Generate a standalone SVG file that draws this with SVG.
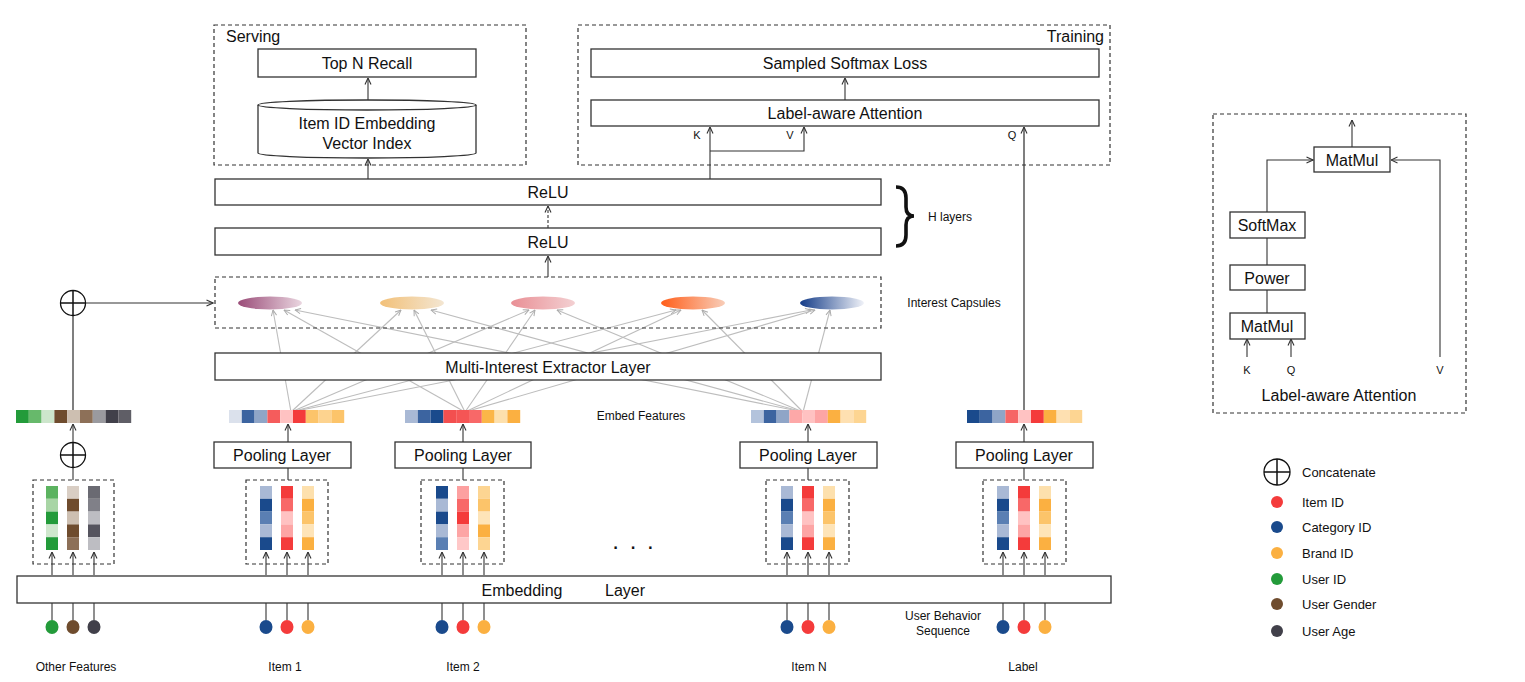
<svg xmlns="http://www.w3.org/2000/svg" width="1525" height="682" viewBox="0 0 1525 682">
<style>
.box{fill:#fff;stroke:#333;stroke-width:1.3}
.dash{fill:none;stroke:#333;stroke-width:1.2;stroke-dasharray:4 3}
.ln{fill:none;stroke:#333;stroke-width:1.1}
.gl{fill:none;stroke:#bdbdbd;stroke-width:1.1}
.t16{font-family:"Liberation Sans",Arial,sans-serif;font-size:16px;fill:#111;text-anchor:middle;dominant-baseline:central}
.t13{font-family:"Liberation Sans",Arial,sans-serif;font-size:13px;fill:#111;dominant-baseline:central}
.t12{font-family:"Liberation Sans Narrow","Liberation Sans",Arial,sans-serif;font-size:12px;fill:#111;text-anchor:middle;dominant-baseline:central}
.t11{font-family:"Liberation Sans",Arial,sans-serif;font-size:11px;fill:#111;text-anchor:middle;dominant-baseline:central}
</style>
<defs>
<marker id="ar" viewBox="0 0 8 8" refX="7.5" refY="4" markerWidth="8" markerHeight="8" markerUnits="userSpaceOnUse" orient="auto"><path d="M1,1 L7.5,4 L1,7" fill="none" stroke="#333" stroke-width="1.1"/></marker>
<marker id="arg" viewBox="0 0 8 8" refX="7.5" refY="4" markerWidth="7" markerHeight="7" markerUnits="userSpaceOnUse" orient="auto"><path d="M1,1 L7.5,4 L1,7" fill="none" stroke="#aaa" stroke-width="1.1"/></marker>
<linearGradient id="g1"><stop offset="0" stop-color="#9a4c78"/><stop offset="1" stop-color="#ead6e0"/></linearGradient>
<linearGradient id="g2"><stop offset="0" stop-color="#f2c078"/><stop offset="1" stop-color="#f3e6d2"/></linearGradient>
<linearGradient id="g3"><stop offset="0" stop-color="#e98f95"/><stop offset="1" stop-color="#f3d0d2"/></linearGradient>
<linearGradient id="g4"><stop offset="0" stop-color="#ff5e1a"/><stop offset="1" stop-color="#f8cdb8"/></linearGradient>
<linearGradient id="g5"><stop offset="0" stop-color="#143c88"/><stop offset="1" stop-color="#f0f2f8"/></linearGradient>
</defs>
<rect width="1525" height="682" fill="#fff"/>

<!-- gray extractor connections (behind boxes) -->
<g id="extractor-links">
<line class="gl" x1="291" y1="412" x2="273" y2="310" marker-end="url(#arg)"/>
<line class="gl" x1="465" y1="412" x2="284" y2="310" marker-end="url(#arg)"/>
<line class="gl" x1="803" y1="412" x2="295" y2="310" marker-end="url(#arg)"/>
<line class="gl" x1="291" y1="412" x2="401" y2="310" marker-end="url(#arg)"/>
<line class="gl" x1="465" y1="412" x2="414" y2="310" marker-end="url(#arg)"/>
<line class="gl" x1="803" y1="412" x2="431" y2="310" marker-end="url(#arg)"/>
<line class="gl" x1="291" y1="412" x2="529" y2="310" marker-end="url(#arg)"/>
<line class="gl" x1="465" y1="412" x2="535" y2="310" marker-end="url(#arg)"/>
<line class="gl" x1="803" y1="412" x2="557" y2="310" marker-end="url(#arg)"/>
<line class="gl" x1="291" y1="412" x2="676" y2="310" marker-end="url(#arg)"/>
<line class="gl" x1="465" y1="412" x2="681" y2="310" marker-end="url(#arg)"/>
<line class="gl" x1="803" y1="412" x2="702" y2="310" marker-end="url(#arg)"/>
<line class="gl" x1="291" y1="412" x2="811" y2="310" marker-end="url(#arg)"/>
<line class="gl" x1="465" y1="412" x2="815" y2="310" marker-end="url(#arg)"/>
<line class="gl" x1="803" y1="412" x2="830" y2="310" marker-end="url(#arg)"/>
</g>

<!-- connectors -->
<g id="connectors">
<line class="ln" x1="368" y1="100" x2="368" y2="78" marker-end="url(#ar)"/>
<line class="ln" x1="368" y1="179" x2="368" y2="159" marker-end="url(#ar)"/>
<line class="ln" x1="845" y1="100" x2="845" y2="78" marker-end="url(#ar)"/>
<polyline class="ln" points="710,179 710,151"/>
<line class="ln" x1="710" y1="151" x2="710" y2="127" marker-end="url(#ar)"/>
<polyline class="ln" points="710,151 804,151 804,127" marker-end="url(#ar)"/>
<line x1="1024" y1="410" x2="1024" y2="127" stroke="#555" stroke-width="1.5" marker-end="url(#ar)"/>
<line class="ln" x1="548" y1="228" x2="548" y2="206" stroke-dasharray="3 2" marker-end="url(#ar)"/>
<line class="ln" x1="548" y1="277" x2="548" y2="256" marker-end="url(#ar)"/>
<line class="ln" x1="86" y1="303" x2="213" y2="303" marker-end="url(#ar)"/>
<line x1="73" y1="410" x2="73" y2="316" stroke="#555" stroke-width="1.5"/>
<line class="ln" x1="73" y1="442" x2="73" y2="424" marker-end="url(#ar)"/>
<line class="ln" x1="73" y1="480" x2="73" y2="467"/>
<line class="ln" x1="288" y1="442" x2="288" y2="424" marker-end="url(#ar)"/>
<line class="ln" x1="288" y1="480" x2="288" y2="468"/>
<line class="ln" x1="463" y1="442" x2="463" y2="424" marker-end="url(#ar)"/>
<line class="ln" x1="463" y1="480" x2="463" y2="468"/>
<line class="ln" x1="808" y1="442" x2="808" y2="424" marker-end="url(#ar)"/>
<line class="ln" x1="808" y1="480" x2="808" y2="468"/>
<line class="ln" x1="1024" y1="442" x2="1024" y2="424" marker-end="url(#ar)"/>
<line class="ln" x1="1024" y1="480" x2="1024" y2="468"/>
<!-- embedding to columns -->
<g>
<line class="ln" x1="52" y1="575" x2="52" y2="552" marker-end="url(#ar)"/>
<line class="ln" x1="73" y1="575" x2="73" y2="552" marker-end="url(#ar)"/>
<line class="ln" x1="94" y1="575" x2="94" y2="552" marker-end="url(#ar)"/>
<line class="ln" x1="266" y1="575" x2="266" y2="552" marker-end="url(#ar)"/>
<line class="ln" x1="287" y1="575" x2="287" y2="552" marker-end="url(#ar)"/>
<line class="ln" x1="308" y1="575" x2="308" y2="552" marker-end="url(#ar)"/>
<line class="ln" x1="442" y1="575" x2="442" y2="552" marker-end="url(#ar)"/>
<line class="ln" x1="463" y1="575" x2="463" y2="552" marker-end="url(#ar)"/>
<line class="ln" x1="484" y1="575" x2="484" y2="552" marker-end="url(#ar)"/>
<line class="ln" x1="787" y1="575" x2="787" y2="552" marker-end="url(#ar)"/>
<line class="ln" x1="808" y1="575" x2="808" y2="552" marker-end="url(#ar)"/>
<line class="ln" x1="829" y1="575" x2="829" y2="552" marker-end="url(#ar)"/>
<line class="ln" x1="1003" y1="575" x2="1003" y2="552" marker-end="url(#ar)"/>
<line class="ln" x1="1024" y1="575" x2="1024" y2="552" marker-end="url(#ar)"/>
<line class="ln" x1="1045" y1="575" x2="1045" y2="552" marker-end="url(#ar)"/>
</g>
<!-- inputs to embedding -->
<g>
<line class="ln" x1="52" y1="603" x2="52" y2="620"/>
<line class="ln" x1="73" y1="603" x2="73" y2="620"/>
<line class="ln" x1="94" y1="603" x2="94" y2="620"/>
<line class="ln" x1="266" y1="603" x2="266" y2="620"/>
<line class="ln" x1="287" y1="603" x2="287" y2="620"/>
<line class="ln" x1="308" y1="603" x2="308" y2="620"/>
<line class="ln" x1="442" y1="603" x2="442" y2="620"/>
<line class="ln" x1="463" y1="603" x2="463" y2="620"/>
<line class="ln" x1="484" y1="603" x2="484" y2="620"/>
<line class="ln" x1="787" y1="603" x2="787" y2="620"/>
<line class="ln" x1="808" y1="603" x2="808" y2="620"/>
<line class="ln" x1="829" y1="603" x2="829" y2="620"/>
<line class="ln" x1="1003" y1="603" x2="1003" y2="620"/>
<line class="ln" x1="1024" y1="603" x2="1024" y2="620"/>
<line class="ln" x1="1045" y1="603" x2="1045" y2="620"/>
</g>
</g>

<!-- Serving -->
<g id="serving">
<rect class="dash" x="214" y="25" width="312" height="140"/>
<text class="t16" x="226" y="36" style="text-anchor:start">Serving</text>
</g>
<g id="top-n-recall">
<rect class="box" x="258" y="49" width="218" height="28"/>
<text class="t16" x="367" y="63">Top N Recall</text>
</g>
<g id="vector-index">
<path d="M258,105 L258,153 A109,5 0 0 0 476,153 L476,105" class="box"/>
<ellipse cx="367" cy="105" rx="109" ry="5" class="box"/>
<text class="t16" x="367" y="123">Item ID Embedding</text>
<text class="t16" x="367" y="143">Vector Index</text>
</g>

<!-- Training -->
<g id="training">
<rect class="dash" x="578" y="25" width="532" height="140"/>
<text class="t16" x="1104" y="36" style="text-anchor:end">Training</text>
</g>
<g id="sampled-softmax">
<rect class="box" x="591" y="49" width="508" height="28"/>
<text class="t16" x="845" y="63">Sampled Softmax Loss</text>
</g>
<g id="label-attention">
<rect class="box" x="591" y="100" width="508" height="26"/>
<text class="t16" x="845" y="113">Label-aware Attention</text>
<text class="t11" x="697" y="135">K</text>
<text class="t11" x="790" y="135">V</text>
<text class="t11" x="1012" y="135">Q</text>
</g>

<!-- ReLU -->
<g id="relu-top">
<rect class="box" x="215" y="179" width="666" height="26"/>
<text class="t16" x="548" y="192">ReLU</text>
</g>
<g id="relu-bottom">
<rect class="box" x="215" y="228" width="666" height="27"/>
<text class="t16" x="548" y="242">ReLU</text>
</g>
<g id="h-layers">
<path d="M896,187 Q906,187 906,198 L906,207 Q906,216 914,216 Q906,216 906,225 L906,235 Q906,246 896,246" fill="none" stroke="#111" stroke-width="3.6"/>
<text class="t12" x="950" y="217">H layers</text>
</g>

<!-- Interest capsules -->
<g id="interest-capsules">
<rect class="dash" x="215" y="277" width="666" height="51"/>
<ellipse cx="270" cy="303" rx="32" ry="6.5" fill="url(#g1)"/>
<ellipse cx="412" cy="303" rx="32" ry="6.5" fill="url(#g2)"/>
<ellipse cx="543" cy="303" rx="32" ry="6.5" fill="url(#g3)"/>
<ellipse cx="693" cy="303" rx="32" ry="6.5" fill="url(#g4)"/>
<ellipse cx="832" cy="303" rx="32" ry="6.5" fill="url(#g5)"/>
<text class="t12" x="954" y="303">Interest Capsules</text>
</g>
<g id="concat-top">
<circle cx="73" cy="303" r="12.5" fill="#fff" stroke="#111" stroke-width="1.3"/>
<path d="M60.5,303 H85.5 M73,290.5 V315.5" stroke="#111" stroke-width="1.5"/>
</g>

<g id="extractor">
<rect class="box" x="215" y="353" width="666" height="27"/>
<text class="t16" x="548" y="367">Multi-Interest Extractor Layer</text>
</g>

<!-- Embed feature vectors -->
<g id="embed-features">
<g transform="translate(16,410)">
<rect x="0" width="12.8" height="13" fill="#239b3a"/><rect x="12.8" width="12.8" height="13" fill="#67b96b"/><rect x="25.6" width="12.8" height="13" fill="#cde6cc"/><rect x="38.4" width="12.8" height="13" fill="#6f4c2e"/><rect x="51.2" width="12.8" height="13" fill="#cdbfb1"/><rect x="64" width="12.8" height="13" fill="#8d7058"/><rect x="76.8" width="12.8" height="13" fill="#9a9a9f"/><rect x="89.6" width="12.8" height="13" fill="#41404a"/><rect x="102.4" width="12.8" height="13" fill="#5f5e66"/>
</g>
<g transform="translate(229,410)">
<rect x="0" width="12.8" height="13" fill="#dbe1ec"/><rect x="12.8" width="12.8" height="13" fill="#3c64a0"/><rect x="25.6" width="12.8" height="13" fill="#8fa5c7"/><rect x="38.4" width="12.8" height="13" fill="#f55c5c"/><rect x="51.2" width="12.8" height="13" fill="#ffc2c2"/><rect x="64" width="12.8" height="13" fill="#f43b3b"/><rect x="76.8" width="12.8" height="13" fill="#fcc46a"/><rect x="89.6" width="12.8" height="13" fill="#fdd38f"/><rect x="102.4" width="12.8" height="13" fill="#fcc46a"/>
</g>
<g transform="translate(405,410)">
<rect x="0" width="12.8" height="13" fill="#a9b9d5"/><rect x="12.8" width="12.8" height="13" fill="#3c64a0"/><rect x="25.6" width="12.8" height="13" fill="#1a4a8c"/><rect x="38.4" width="12.8" height="13" fill="#f34f4f"/><rect x="51.2" width="12.8" height="13" fill="#f55555"/><rect x="64" width="12.8" height="13" fill="#f86868"/><rect x="76.8" width="12.8" height="13" fill="#fbb648"/><rect x="89.6" width="12.8" height="13" fill="#fde0ad"/><rect x="102.4" width="12.8" height="13" fill="#fbb041"/>
</g>
<g transform="translate(751,410)">
<rect x="0" width="12.8" height="13" fill="#b3c3dc"/><rect x="12.8" width="12.8" height="13" fill="#3c64a0"/><rect x="25.6" width="12.8" height="13" fill="#8fa5c7"/><rect x="38.4" width="12.8" height="13" fill="#fda8a8"/><rect x="51.2" width="12.8" height="13" fill="#ffc2c2"/><rect x="64" width="12.8" height="13" fill="#fda5a5"/><rect x="76.8" width="12.8" height="13" fill="#fbb041"/><rect x="89.6" width="12.8" height="13" fill="#fee0b1"/><rect x="102.4" width="12.8" height="13" fill="#fdd592"/>
</g>
<g transform="translate(967,410)">
<rect x="0" width="12.8" height="13" fill="#1a4a8c"/><rect x="12.8" width="12.8" height="13" fill="#3c64a0"/><rect x="25.6" width="12.8" height="13" fill="#8fa5c7"/><rect x="38.4" width="12.8" height="13" fill="#f66565"/><rect x="51.2" width="12.8" height="13" fill="#ffc2c2"/><rect x="64" width="12.8" height="13" fill="#f43b3b"/><rect x="76.8" width="12.8" height="13" fill="#fbb041"/><rect x="89.6" width="12.8" height="13" fill="#fee0b1"/><rect x="102.4" width="12.8" height="13" fill="#fdd592"/>
</g>
<text class="t12" x="641" y="416">Embed Features</text>
</g>

<!-- concat bottom -->
<g id="concat-bottom">
<circle cx="73" cy="455" r="12.5" fill="#fff" stroke="#111" stroke-width="1.3"/>
<path d="M60.5,455 H85.5 M73,442.5 V467.5" stroke="#111" stroke-width="1.5"/>
</g>

<!-- Pooling layers -->
<g id="pool-1"><rect class="box" x="214" y="442" width="137" height="26"/><text class="t16" x="282" y="455">Pooling Layer</text></g>
<g id="pool-2"><rect class="box" x="395" y="442" width="136" height="26"/><text class="t16" x="463" y="455">Pooling Layer</text></g>
<g id="pool-n"><rect class="box" x="740" y="442" width="137" height="26"/><text class="t16" x="808" y="455">Pooling Layer</text></g>
<g id="pool-label"><rect class="box" x="956" y="442" width="137" height="26"/><text class="t16" x="1024" y="455">Pooling Layer</text></g>

<!-- Column groups -->
<g id="cols-other">
<rect class="dash" x="33" y="480" width="81" height="84"/>
<g transform="translate(46,486)"><rect y="0" width="12" height="12.8" fill="#5cb360"/><rect y="12.8" width="12" height="12.8" fill="#a8d5a5"/><rect y="25.6" width="12" height="12.8" fill="#239b3a"/><rect y="38.4" width="12" height="12.8" fill="#cfe7cd"/><rect y="51.2" width="12" height="12.8" fill="#239b3a"/></g>
<g transform="translate(67,486)"><rect y="0" width="12" height="12.8" fill="#d9cec4"/><rect y="12.8" width="12" height="12.8" fill="#6f4c2e"/><rect y="25.6" width="12" height="12.8" fill="#cdbfb1"/><rect y="38.4" width="12" height="12.8" fill="#6f4c2e"/><rect y="51.2" width="12" height="12.8" fill="#8d7058"/></g>
<g transform="translate(88,486)"><rect y="0" width="12" height="12.8" fill="#6a6a72"/><rect y="12.8" width="12" height="12.8" fill="#808088"/><rect y="25.6" width="12" height="12.8" fill="#bdbdc2"/><rect y="38.4" width="12" height="12.8" fill="#55545e"/><rect y="51.2" width="12" height="12.8" fill="#bdbdc2"/></g>
</g>
<g id="cols-item1">
<rect class="dash" x="246" y="480" width="82" height="84"/>
<g transform="translate(260,486)"><rect y="0" width="12" height="12.8" fill="#a9b9d5"/><rect y="12.8" width="12" height="12.8" fill="#1a4a8c"/><rect y="25.6" width="12" height="12.8" fill="#5a7fb3"/><rect y="38.4" width="12" height="12.8" fill="#a9b9d5"/><rect y="51.2" width="12" height="12.8" fill="#1a4a8c"/></g>
<g transform="translate(281,486)"><rect y="0" width="12" height="12.8" fill="#f43b3b"/><rect y="12.8" width="12" height="12.8" fill="#f86868"/><rect y="25.6" width="12" height="12.8" fill="#ffc2c2"/><rect y="38.4" width="12" height="12.8" fill="#fda5a5"/><rect y="51.2" width="12" height="12.8" fill="#f43b3b"/></g>
<g transform="translate(302,486)"><rect y="0" width="12" height="12.8" fill="#fde0ad"/><rect y="12.8" width="12" height="12.8" fill="#fbb041"/><rect y="25.6" width="12" height="12.8" fill="#fcc46a"/><rect y="38.4" width="12" height="12.8" fill="#fee4b8"/><rect y="51.2" width="12" height="12.8" fill="#fbb041"/></g>
</g>
<g id="cols-item2">
<rect class="dash" x="421" y="480" width="83" height="84"/>
<g transform="translate(436,486)"><rect y="0" width="12" height="12.8" fill="#1a4a8c"/><rect y="12.8" width="12" height="12.8" fill="#a9b9d5"/><rect y="25.6" width="12" height="12.8" fill="#1a4a8c"/><rect y="38.4" width="12" height="12.8" fill="#a9b9d5"/><rect y="51.2" width="12" height="12.8" fill="#5a7fb3"/></g>
<g transform="translate(457,486)"><rect y="0" width="12" height="12.8" fill="#fda0a0"/><rect y="12.8" width="12" height="12.8" fill="#f86868"/><rect y="25.6" width="12" height="12.8" fill="#f43b3b"/><rect y="38.4" width="12" height="12.8" fill="#fda5a5"/><rect y="51.2" width="12" height="12.8" fill="#ffc8c8"/></g>
<g transform="translate(478,486)"><rect y="0" width="12" height="12.8" fill="#fdd592"/><rect y="12.8" width="12" height="12.8" fill="#fcc46a"/><rect y="25.6" width="12" height="12.8" fill="#fee4b8"/><rect y="38.4" width="12" height="12.8" fill="#fbb041"/><rect y="51.2" width="12" height="12.8" fill="#fdd592"/></g>
</g>
<g id="cols-itemn">
<rect class="dash" x="766" y="480" width="83" height="84"/>
<g transform="translate(781,486)"><rect y="0" width="12" height="12.8" fill="#a9b9d5"/><rect y="12.8" width="12" height="12.8" fill="#1a4a8c"/><rect y="25.6" width="12" height="12.8" fill="#5a7fb3"/><rect y="38.4" width="12" height="12.8" fill="#a9b9d5"/><rect y="51.2" width="12" height="12.8" fill="#1a4a8c"/></g>
<g transform="translate(802,486)"><rect y="0" width="12" height="12.8" fill="#f43b3b"/><rect y="12.8" width="12" height="12.8" fill="#f86868"/><rect y="25.6" width="12" height="12.8" fill="#ffc2c2"/><rect y="38.4" width="12" height="12.8" fill="#fda5a5"/><rect y="51.2" width="12" height="12.8" fill="#f43b3b"/></g>
<g transform="translate(823,486)"><rect y="0" width="12" height="12.8" fill="#fde0ad"/><rect y="12.8" width="12" height="12.8" fill="#fbb041"/><rect y="25.6" width="12" height="12.8" fill="#fcc46a"/><rect y="38.4" width="12" height="12.8" fill="#fee4b8"/><rect y="51.2" width="12" height="12.8" fill="#fbb041"/></g>
</g>
<g id="cols-label">
<rect class="dash" x="983" y="480" width="83" height="84"/>
<g transform="translate(997,486)"><rect y="0" width="12" height="12.8" fill="#a9b9d5"/><rect y="12.8" width="12" height="12.8" fill="#1a4a8c"/><rect y="25.6" width="12" height="12.8" fill="#5a7fb3"/><rect y="38.4" width="12" height="12.8" fill="#a9b9d5"/><rect y="51.2" width="12" height="12.8" fill="#1a4a8c"/></g>
<g transform="translate(1018,486)"><rect y="0" width="12" height="12.8" fill="#f43b3b"/><rect y="12.8" width="12" height="12.8" fill="#f86868"/><rect y="25.6" width="12" height="12.8" fill="#ffc2c2"/><rect y="38.4" width="12" height="12.8" fill="#fda5a5"/><rect y="51.2" width="12" height="12.8" fill="#f43b3b"/></g>
<g transform="translate(1039,486)"><rect y="0" width="12" height="12.8" fill="#fde0ad"/><rect y="12.8" width="12" height="12.8" fill="#fbb041"/><rect y="25.6" width="12" height="12.8" fill="#fcc46a"/><rect y="38.4" width="12" height="12.8" fill="#fee4b8"/><rect y="51.2" width="12" height="12.8" fill="#fbb041"/></g>
</g>
<text x="634" y="540" class="t16" style="font-size:24px;letter-spacing:2px">. . .</text>

<!-- Embedding layer -->
<g id="embedding-layer">
<rect class="box" x="17" y="576" width="1094" height="27"/>
<text class="t16" x="522" y="590">Embedding</text>
<text class="t16" x="625" y="590">Layer</text>
</g>

<!-- Inputs -->
<g id="inputs">
<ellipse cx="52" cy="627" rx="6.5" ry="7" fill="#239b3a"/><ellipse cx="73" cy="627" rx="6.5" ry="7" fill="#6f4c2e"/><ellipse cx="94" cy="627" rx="6.5" ry="7" fill="#41404a"/>
<ellipse cx="266" cy="627" rx="6.5" ry="7" fill="#1a4a8c"/><ellipse cx="287" cy="627" rx="6.5" ry="7" fill="#f43b3b"/><ellipse cx="308" cy="627" rx="6.5" ry="7" fill="#fbb041"/>
<ellipse cx="442" cy="627" rx="6.5" ry="7" fill="#1a4a8c"/><ellipse cx="463" cy="627" rx="6.5" ry="7" fill="#f43b3b"/><ellipse cx="484" cy="627" rx="6.5" ry="7" fill="#fbb041"/>
<ellipse cx="787" cy="627" rx="6.5" ry="7" fill="#1a4a8c"/><ellipse cx="808" cy="627" rx="6.5" ry="7" fill="#f43b3b"/><ellipse cx="829" cy="627" rx="6.5" ry="7" fill="#fbb041"/>
<ellipse cx="1003" cy="627" rx="6.5" ry="7" fill="#1a4a8c"/><ellipse cx="1024" cy="627" rx="6.5" ry="7" fill="#f43b3b"/><ellipse cx="1045" cy="627" rx="6.5" ry="7" fill="#fbb041"/>
<text class="t12" x="76" y="667">Other Features</text>
<text class="t12" x="285" y="667">Item 1</text>
<text class="t12" x="463" y="667">Item 2</text>
<text class="t12" x="809" y="667">Item N</text>
<text class="t12" x="1023" y="667">Label</text>
<text class="t12" x="943" y="616">User Behavior</text>
<text class="t12" x="943" y="631">Sequence</text>
</g>

<!-- Label-aware attention detail -->
<g id="attention-detail">
<rect class="dash" x="1213" y="114" width="253" height="299"/>
<g id="att-connectors">
<line class="ln" x1="1352" y1="147" x2="1352" y2="120" marker-end="url(#ar)"/>
<polyline class="ln" points="1267,212 1267,160 1313,160" marker-end="url(#ar)"/>
<polyline class="ln" points="1440,357 1440,160 1391,160" marker-end="url(#ar)"/>
<line class="ln" x1="1267" y1="238" x2="1267" y2="265"/>
<line class="ln" x1="1267" y1="290" x2="1267" y2="313"/>
<line class="ln" x1="1247" y1="357" x2="1247" y2="339" marker-end="url(#ar)"/>
<line class="ln" x1="1291" y1="357" x2="1291" y2="339" marker-end="url(#ar)"/>
</g>
<g id="att-matmul-top"><rect class="box" x="1314" y="147" width="76" height="25"/><text class="t16" x="1352" y="160">MatMul</text></g>
<g id="att-softmax"><rect class="box" x="1230" y="212" width="75" height="26"/><text class="t16" x="1267" y="225">SoftMax</text></g>
<g id="att-power"><rect class="box" x="1230" y="265" width="75" height="25"/><text class="t16" x="1267" y="278">Power</text></g>
<g id="att-matmul-bottom"><rect class="box" x="1230" y="313" width="75" height="26"/><text class="t16" x="1267" y="326">MatMul</text></g>
<text class="t11" x="1247" y="370">K</text>
<text class="t11" x="1291" y="370">Q</text>
<text class="t11" x="1440" y="370">V</text>
<text class="t16" x="1339" y="395">Label-aware Attention</text>
</g>

<!-- Legend -->
<g id="legend">
<circle cx="1277" cy="472" r="13" fill="#fff" stroke="#111" stroke-width="1.3"/>
<path d="M1264,472 H1290 M1277,459 V485" stroke="#111" stroke-width="1.5"/>
<text class="t13" x="1302" y="472">Concatenate</text>
<circle cx="1277" cy="502" r="6" fill="#f43b3b"/><text class="t13" x="1302" y="502">Item ID</text>
<circle cx="1277" cy="527" r="6" fill="#1a4a8c"/><text class="t13" x="1302" y="527">Category ID</text>
<circle cx="1277" cy="553" r="6" fill="#fbb041"/><text class="t13" x="1302" y="553">Brand ID</text>
<circle cx="1277" cy="579" r="6" fill="#239b3a"/><text class="t13" x="1302" y="579">User ID</text>
<circle cx="1277" cy="604" r="6" fill="#6f4c2e"/><text class="t13" x="1302" y="604">User Gender</text>
<circle cx="1277" cy="631" r="6" fill="#41404a"/><text class="t13" x="1302" y="631">User Age</text>
</g>
</svg>
